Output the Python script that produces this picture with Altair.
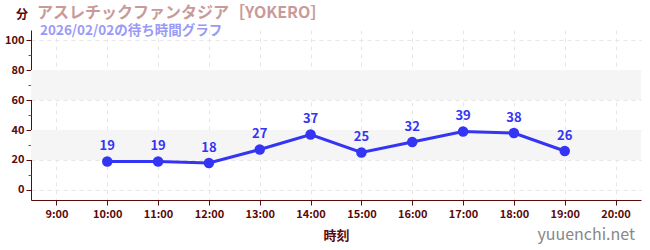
import altair as alt
import pandas as pd

hours = [10, 11, 12, 13, 14, 15, 16, 17, 18, 19]
waits = [19, 19, 18, 27, 37, 25, 32, 39, 38, 26]
tick_hours = [9, 10, 11, 12, 13, 14, 15, 16, 17, 18, 19, 20]
y_major = [0, 20, 40, 60, 80, 100]
y_minor = [10, 30, 50, 70, 90]
band_lo = [20, 60]
band_hi = [40, 80]

FONT = "Noto Sans CJK JP"
AX = "#5a0a0a"
LINE = "#3434f4"

df = pd.DataFrame({"hour": hours, "wait": waits})
bands = pd.DataFrame({"lo": band_lo, "hi": band_hi})

xs = alt.Scale(domain=[8.5, 20.5], nice=False, zero=False)
ys = alt.Scale(domain=[-6.6667, 106.6667], nice=False, zero=False)

W, H = 610, 170

x_axis = alt.Axis(values=tick_hours, labelExpr="datum.value + ':00'", title="時刻",
                  grid=True, gridDash=[4, 4], gridColor="#e6e6e6",
                  domainColor=AX, tickColor=AX, tickSize=5, labelColor=AX,
                  labelFont=FONT, labelFontSize=11, labelFontWeight="bold",
                  titleFont=FONT, titleFontSize=13, titleColor=AX, titleFontWeight="bold",
                  titlePadding=10, labelPadding=3)
y_axis = alt.Axis(values=y_major, title=None, grid=True, gridDash=[4, 4], gridColor="#e6e6e6",
                  domainColor=AX, tickColor=AX, tickSize=5, labelColor=AX, orient="left",
                  labelFont=FONT, labelFontSize=11, labelFontWeight="bold", labelPadding=2)

band_layer = alt.Chart(bands).mark_rect(color="#f5f5f5").encode(
    y=alt.Y("lo:Q", scale=ys, axis=y_axis),
    y2="hi:Q",
    x=alt.value(0), x2=alt.value(W),
)

minor_axis = alt.Chart(pd.DataFrame({"v": y_minor})).mark_point(opacity=0).encode(
    y=alt.Y("v:Q", scale=ys, axis=alt.Axis(values=y_minor, labels=False, domain=False,
                                           grid=False, tickColor="#e02020", tickSize=3,
                                           orient="left", tickWidth=1, title=None)),
)

line = alt.Chart(df).mark_line(color=LINE, strokeWidth=3).encode(
    x=alt.X("hour:Q", scale=xs, axis=x_axis),
    y=alt.Y("wait:Q", scale=ys, axis=None),
)
pts = alt.Chart(df).mark_circle(color=LINE, size=110, opacity=1).encode(
    x=alt.X("hour:Q", scale=xs), y=alt.Y("wait:Q", scale=ys, axis=None),
)
labels = alt.Chart(df).mark_text(color=LINE, dy=-15, font=FONT, fontSize=13,
                                 fontWeight="bold").encode(
    x=alt.X("hour:Q", scale=xs), y=alt.Y("wait:Q", scale=ys, axis=None), text="wait:Q",
)

def txt(s, x, y, color, size, align="left", weight="bold"):
    return alt.Chart(pd.DataFrame({"t": [s]})).mark_text(
        align=align, baseline="middle", color=color, fontSize=size,
        font=FONT, fontWeight=weight).encode(x=alt.value(x), y=alt.value(y), text="t:N")

titles = (
    txt("分", -15, -15, AX, 12)
    + txt("アスレチックファンタジア［YOKERO］", 6, -17, "#c99a9a", 16, weight="bold")
    + txt("2026/02/02の待ち時間グラフ", 9, 1, "#9a9af6", 13.5)
    + txt("yuuenchi.net", 604, 35 + H, "#888888", 16, align="right", weight="normal")
)

chart = alt.layer(band_layer, minor_axis, line, pts, labels, titles).properties(
    width=W, height=H,
    autosize=alt.AutoSizeParams(type="none"),
    padding={"left": 31, "top": 30, "right": 9, "bottom": 50},
).configure_view(stroke=None).resolve_scale(y="shared").resolve_axis(y="independent")

chart.save("out.html", embed_options={"renderer": "svg", "actions": False})
